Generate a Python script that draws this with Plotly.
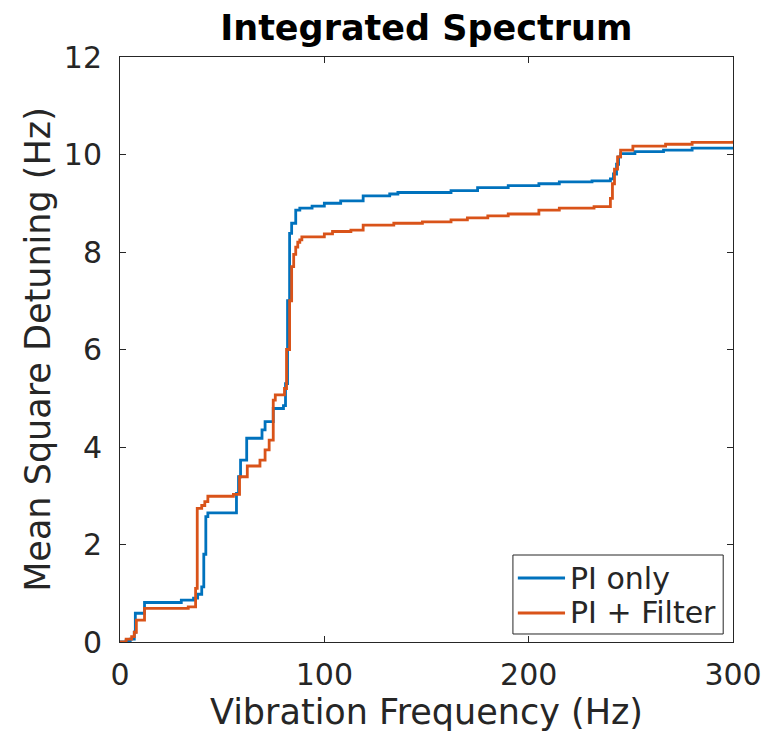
import plotly.graph_objects as go

# Blue series: PI only (frequency in Hz, cumulative value) - step held from each freq
freq_pi = [0, 3, 5, 7, 7.5, 12, 30, 36, 38, 40, 41, 42, 43, 57, 58, 59, 62, 69.5, 71, 75,
           80, 81, 82, 83, 84, 86, 88, 94, 100, 108, 119, 132, 136, 162, 175, 190, 205,
           215, 231, 240, 241.5, 243, 244, 245, 252, 266, 280, 300]
val_pi = [0, 0.03, 0.06, 0.2, 0.59, 0.81, 0.86, 0.9, 0.98, 1.13, 1.8, 2.57, 2.65, 3.05,
          3.39, 3.73, 4.18, 4.35, 4.52, 4.79, 4.85, 5.3, 7.0, 8.38, 8.59, 8.86, 8.9, 8.94,
          9.0, 9.05, 9.15, 9.19, 9.22, 9.26, 9.32, 9.36, 9.4, 9.44, 9.46, 9.5, 9.6, 9.8,
          9.95, 10.02, 10.06, 10.09, 10.13, 10.16]

# Orange series: PI + Filter
freq_f = [0, 3, 5.7, 7, 8, 12, 33.4, 37, 37.8, 40, 41.5, 43, 55.5, 58.5, 62.3, 68.5, 71,
          73, 75, 76, 80.5, 81.5, 83, 84, 85, 86, 87, 88, 89, 100, 104, 113, 119, 134,
          148, 162, 170, 180, 190, 205, 215, 232, 240, 241, 242, 243.5, 245, 251, 267,
          280, 300]
val_f = [0, 0.06, 0.11, 0.2, 0.45, 0.69, 0.72, 1.1, 2.74, 2.8, 2.88, 2.99, 3.03, 3.39,
         3.61, 3.73, 3.94, 4.14, 4.96, 5.07, 5.2, 6.0, 7.0, 7.7, 7.95, 8.1, 8.2, 8.25,
         8.31, 8.37, 8.42, 8.45, 8.55, 8.59, 8.62, 8.66, 8.7, 8.74, 8.78, 8.86, 8.9,
         8.93, 9.1, 9.4, 9.7, 9.95, 10.09, 10.17, 10.21, 10.25, 10.28]

series_names = ["PI only", "PI + Filter"]
series_colors = ["#0072BD", "#D95319"]
x_ticks = [0, 100, 200, 300]
y_ticks = [0, 2, 4, 6, 8, 10, 12]

fig = go.Figure()
for xs, ys, name, col in [(freq_pi, val_pi, series_names[0], series_colors[0]),
                          (freq_f, val_f, series_names[1], series_colors[1])]:
    fig.add_trace(go.Scatter(x=xs, y=ys, mode="lines", name=name, showlegend=False,
                             line=dict(color=col, width=2.8, shape="hv")))

axis_common = dict(showgrid=False, zeroline=False, showline=True, mirror="ticks",
                   linecolor="#262626", linewidth=1, ticks="inside", ticklen=6,
                   tickcolor="#262626", tickwidth=1, automargin=False,
                   tickfont=dict(family="DejaVu Sans", size=30, color="#262626"))

fig.update_xaxes(range=[0, 300], tickvals=x_ticks, ticklabelstandoff=6,
                 title=dict(text="Vibration Frequency (Hz)", standoff=6,
                            font=dict(family="DejaVu Sans", size=35, color="#262626")),
                 **axis_common)
fig.update_yaxes(range=[0, 12], tickvals=y_ticks, ticklabelstandoff=11,
                 title=dict(text="Mean Square Detuning (Hz)", standoff=2,
                            font=dict(family="DejaVu Sans", size=35, color="#262626")),
                 **axis_common)

# Legend box drawn in plot-area (paper) coordinates, bottom-right corner
lg_x0, lg_x1, lg_y0, lg_y1 = 0.641, 0.984, 0.0137, 0.1487
row_y = [0.1094, 0.0496]
fig.add_shape(type="rect", xref="paper", yref="paper", x0=lg_x0, x1=lg_x1,
              y0=lg_y0, y1=lg_y1, line=dict(color="#262626", width=1),
              fillcolor="white", layer="above")
for name, col, ry in zip(series_names, series_colors, row_y):
    fig.add_shape(type="line", xref="paper", yref="paper", x0=0.649, x1=0.726,
                  y0=ry, y1=ry, line=dict(color=col, width=3), layer="above")
    fig.add_annotation(text=name, xref="paper", yref="paper", x=0.731, y=ry,
                       xanchor="left", yanchor="middle", showarrow=False,
                       font=dict(family="DejaVu Sans", size=30, color="#262626"))

fig.update_layout(
    width=764, height=735,
    margin=dict(l=120, r=31, t=57, b=93),
    paper_bgcolor="white", plot_bgcolor="white",
    title=dict(text="<b>Integrated Spectrum</b>", x=0.558, xanchor="center",
               y=0.962, yanchor="middle",
               font=dict(family="DejaVu Sans", size=35, color="black")),
    showlegend=False,
)

fig.write_html("out.html")
